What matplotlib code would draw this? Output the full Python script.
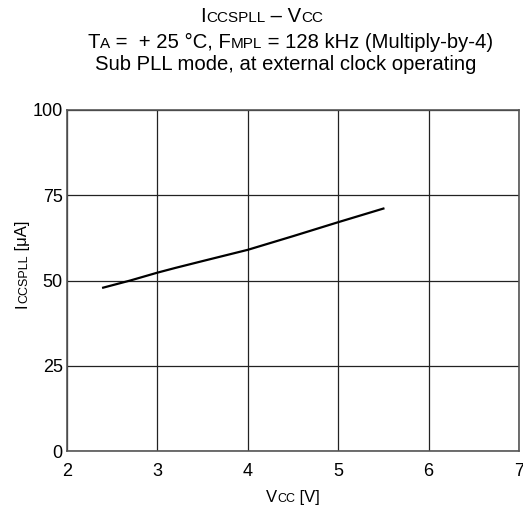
import matplotlib
matplotlib.use("Agg")
import matplotlib.pyplot as plt

vcc = [2.4, 2.7, 3.0, 3.2, 3.5, 4.0, 4.5, 5.0, 5.5]
iccspll = [47.9, 50.0, 52.3, 53.7, 55.7, 59.0, 63.0, 67.1, 71.1]

x_ticks = [2, 3, 4, 5, 6, 7]
y_ticks = [0, 25, 50, 75, 100]

plt.rcParams["font.family"] = ["Liberation Sans", "DejaVu Sans"]

W, H = 523, 512
fig = plt.figure(figsize=(W / 100, H / 100), dpi=100)
ax = fig.add_axes([67 / W, 61 / H, 452 / W, 341 / H])

ax.plot(vcc, iccspll, color="black", lw=1.6)

ax.set_xlim(2, 7)
ax.set_ylim(0, 100)
ax.set_xticks(x_ticks)
ax.set_yticks(y_ticks)
ax.tick_params(axis="both", length=0, labelsize=13)
ax.tick_params(axis="x", pad=9)
ax.tick_params(axis="y", pad=3)
ax.grid(True, color="#222222", lw=0.9)
for sp in ax.spines.values():
    sp.set_color("#555555")
    sp.set_linewidth(1.2)


def rich_text(pieces, cx, cy, rotation=0):
    # pieces of (text, size) laid along one baseline, centred on cx (or cy if rotated)
    r = fig.canvas.get_renderer()
    arts, widths = [], []
    for s, size in pieces:
        t = fig.text(0, 0, s, fontsize=size, ha="left", va="baseline")
        widths.append(t.get_window_extent(r).width)
        arts.append(t)
    pos = -sum(widths) / 2
    for t, w in zip(arts, widths):
        if rotation:
            t.set_position((cx / W, (cy + pos) / H))
            t.set_rotation(90)
            t.set_rotation_mode("anchor")
        else:
            t.set_position(((cx + pos) / W, cy / H))
        pos += w


big, small = 14.6, 11
rich_text([("I", big), ("CCSPLL", small), (" \u2013 V", big), ("CC", small)], 262, 490)
rich_text([("T", big), ("A", small), (" =  + 25 \u00b0C, F", big), ("MPL", small),
           (" = 128 kHz (Multiply-by-4)", big)], 290, 464)
rich_text([("Sub PLL mode, at external clock operating", big)], 286, 442)

rich_text([("V", 12), ("CC", 9), (" [V]", 12)], 293, 10)
rich_text([("I", 12), ("CCSPLL", 9), (" [\u03bcA]", 12)], 27, 248, rotation=90)

fig.savefig("out.png", dpi=100)
